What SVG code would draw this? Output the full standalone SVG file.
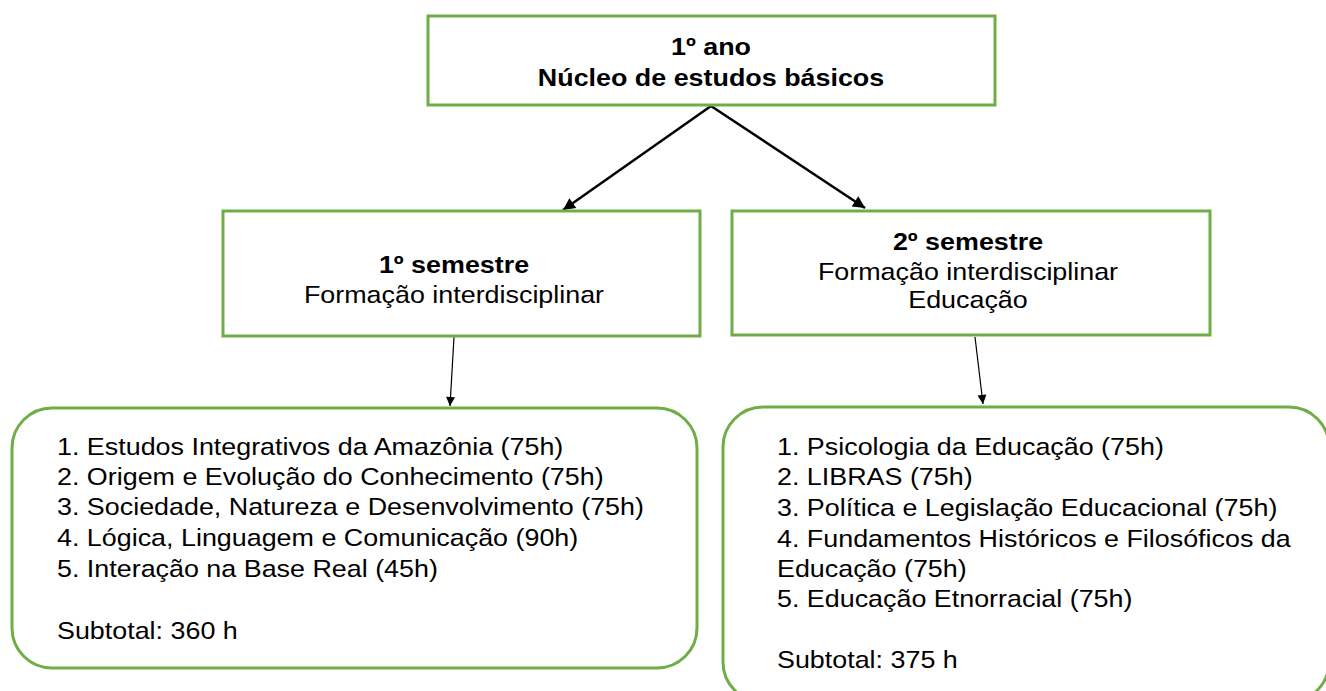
<svg xmlns="http://www.w3.org/2000/svg" width="1326" height="691" viewBox="0 0 1326 691">
<defs>
<style>
.box{fill:#fff;stroke:#70AD47;stroke-width:3}
.t{font-family:"Liberation Sans",Arial,sans-serif;fill:#000;font-size:24px}
.b{font-weight:bold}
.c{text-anchor:middle}
.edge{stroke:#000;fill:none}
</style>
<marker id="ahs" viewBox="0 0 10 10" refX="10" refY="5" markerWidth="14" markerHeight="12" orient="auto" markerUnits="userSpaceOnUse"><path d="M0,0 L10,5 L0,10 z" fill="#000"/></marker>
<marker id="aht" viewBox="0 0 10 10" refX="10" refY="5" markerWidth="12" markerHeight="9" orient="auto" markerUnits="userSpaceOnUse"><path d="M0,0 L10,5 L0,10 z" fill="#000"/></marker>
</defs>
<rect width="1326" height="691" fill="#fff"/>
<g id="connectors">
<line class="edge" x1="711" y1="106" x2="563" y2="210" stroke-width="2.5" marker-end="url(#ahs)"/>
<line class="edge" x1="711" y1="106" x2="865" y2="208" stroke-width="2.5" marker-end="url(#ahs)"/>
<line class="edge" x1="454" y1="337" x2="450" y2="406" stroke-width="1.2" marker-end="url(#aht)"/>
<line class="edge" x1="975" y1="337" x2="983" y2="404" stroke-width="1.2" marker-end="url(#aht)"/>
</g>
<g id="ano">
<rect class="box" x="428" y="16" width="567" height="89"/>
<g transform="translate(711,0) scale(1.12,1)">
<text class="t b c" x="0" y="55">1º ano</text>
<text class="t b c" x="0" y="86">Núcleo de estudos básicos</text>
</g>
</g>
<g id="sem1">
<rect class="box" x="223" y="211" width="477" height="125"/>
<g transform="translate(454,0) scale(1.12,1)">
<text class="t b c" x="0" y="273">1º semestre</text>
<text class="t c" x="0" y="303">Formação interdisciplinar</text>
</g>
</g>
<g id="sem2">
<rect class="box" x="732" y="211" width="478" height="124"/>
<g transform="translate(968,0) scale(1.12,1)">
<text class="t b c" x="0" y="250">2º semestre</text>
<text class="t c" x="0" y="280">Formação interdisciplinar</text>
<text class="t c" x="0" y="308">Educação</text>
</g>
</g>
<g id="list1">
<rect class="box" x="12" y="408" width="685" height="260" rx="40" ry="40"/>
<g transform="translate(57,0) scale(1.12,1)">
<text class="t" x="0" y="455">1. Estudos Integrativos da Amazônia (75h)</text>
<text class="t" x="0" y="485">2. Origem e Evolução do Conhecimento (75h)</text>
<text class="t" x="0" y="515">3. Sociedade, Natureza e Desenvolvimento (75h)</text>
<text class="t" x="0" y="546">4. Lógica, Linguagem e Comunicação (90h)</text>
<text class="t" x="0" y="577">5. Interação na Base Real (45h)</text>
<text class="t" x="0" y="639">Subtotal: 360 h</text>
</g>
</g>
<g id="list2">
<rect class="box" x="723" y="407" width="606" height="295" rx="40" ry="40"/>
<g transform="translate(777,0) scale(1.12,1)">
<text class="t" x="0" y="455">1. Psicologia da Educação (75h)</text>
<text class="t" x="0" y="485">2. LIBRAS (75h)</text>
<text class="t" x="0" y="516">3. Política e Legislação Educacional (75h)</text>
<text class="t" x="0" y="547">4. Fundamentos Históricos e Filosóficos da</text>
<text class="t" x="0" y="577">Educação (75h)</text>
<text class="t" x="0" y="607">5. Educação Etnorracial (75h)</text>
<text class="t" x="0" y="668">Subtotal: 375 h</text>
</g>
</g>
</svg>
